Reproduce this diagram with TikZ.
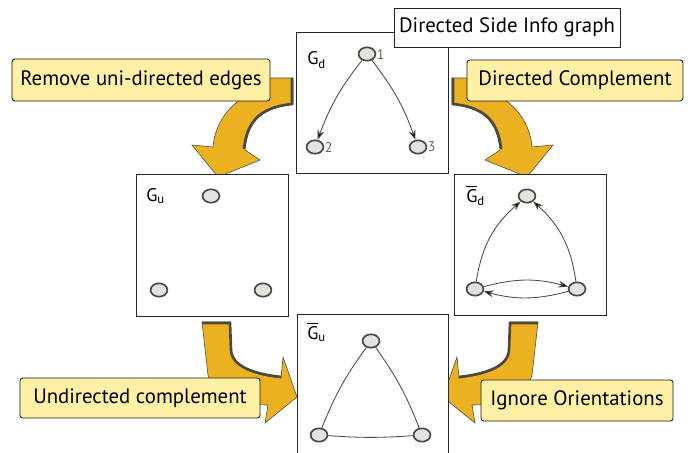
\documentclass[tikz,border=0pt]{standalone}
\usepackage{fontspec}
\setmainfont{PT Sans}
\usepackage{amsmath}
\usetikzlibrary{arrows.meta,shapes.geometric}

\definecolor{gold}{RGB}{236,177,32}
\definecolor{rim}{RGB}{75,74,64}
\definecolor{note}{RGB}{255,240,166}
\definecolor{vfill}{RGB}{226,227,222}
\definecolor{vline}{RGB}{74,74,68}

\tikzset{
	vtx/.style={ellipse,draw=vline,fill=vfill,line width=1.2pt,minimum width=12pt,minimum height=9.5pt,inner sep=0pt},
	num/.style={text=black!60,font=\fontsize{10}{12}\selectfont,inner sep=0.3pt},
	panel/.style={draw=black!85,fill=white,line width=0.6pt},
	callout/.style={draw=black!90,fill=note,rounded corners=2pt,line width=0.6pt,inner sep=0pt,font=\fontsize{14.8}{16}\selectfont},
	band/.style={fill=gold,draw=rim,line width=0.4pt},
	ribbon/.style={draw=rim,line width=1.9pt},
	dirc/.style={draw=vline,line width=0.6pt,-{Stealth[length=7pt,width=5pt]}},
	undir/.style={draw=vline,line width=0.6pt},
	glabel/.style={anchor=base west,inner sep=0pt,font=\fontsize{13}{14}\selectfont}
}

\begin{document}
\begin{tikzpicture}[x=0.025cm,y=0.025cm]
	\useasboundingbox (0,0) rectangle (690,-453);

	\filldraw[band] (293,-78) -- (293,-104) .. controls (265,-108) and (248,-118) .. (245,-150) -- (260,-160) -- (218,-177) -- (192,-145) -- (213,-147) .. controls (215,-120) and (235,-95) .. (265,-90) -- (265,-78) -- cycle;
	\draw[ribbon] (292,-78) -- (292,-104) .. controls (264,-107) and (247,-118) .. (244,-149);

	\filldraw[band] (452,-78) -- (452,-104) .. controls (480,-108) and (497,-118) .. (500,-150) -- (485,-160) -- (527,-177) -- (553,-145) -- (532,-147) .. controls (530,-120) and (510,-95) .. (480,-90) -- (480,-78) -- cycle;
	\draw[ribbon] (453,-78) -- (453,-104) .. controls (481,-107) and (498,-118) .. (501,-149);

	\filldraw[band] (202,-322) -- (230,-322) -- (231,-350) .. controls (232,-368) and (255,-375) .. (281,-378) -- (283,-357) -- (297,-397) -- (265,-423) -- (268,-405) .. controls (232,-405) and (214,-395) .. (208,-375) -- cycle;
	\draw[ribbon] (202,-323) -- (230,-323) -- (231,-350) .. controls (232,-367) and (255,-374) .. (281,-377);

	\filldraw[band] (538,-322) -- (510,-322) -- (509,-350) .. controls (508,-368) and (485,-375) .. (459,-378) -- (457,-357) -- (443,-397) -- (475,-423) -- (472,-405) .. controls (508,-405) and (526,-395) .. (532,-375) -- cycle;
	\draw[ribbon] (538,-323) -- (510,-323) -- (509,-350) .. controls (508,-367) and (485,-374) .. (459,-377);

	\draw[panel] (296,-32) rectangle (448,-173);
	\draw[panel] (136,-174) rectangle (288,-316);
	\draw[panel] (454,-174) rectangle (606,-315);
	\fill[white] (297,-314) rectangle (448,-460);
	\draw[panel] (297,-460) |- (448,-314) -- (448,-460);

	\node[glabel] (gd) at (307,-65) {G$_{\text{d}}$};
	\node[glabel] (gu) at (146,-201) {G$_{\text{u}}$};
	\node[glabel] (gdc) at (466,-202) {$\overline{\text{G}}_{\text{d}}$};
	\node[glabel] (guc) at (307,-339) {$\overline{\text{G}}_{\text{u}}$};

	\node[vtx,label={[num]right:1}] (d1) at (367,-54) {};
	\node[vtx,label={[num]right:2}] (d2) at (315,-147) {};
	\node[vtx,label={[num]right:3}] (d3) at (418,-147) {};

	\node[vtx] (u1) at (211,-196) {};
	\node[vtx] (u2) at (159,-290) {};
	\node[vtx] (u3) at (263,-290) {};

	\node[vtx] (cd1) at (527,-196) {};
	\node[vtx] (cd2) at (475,-289) {};
	\node[vtx] (cd3) at (577,-289) {};

	\node[vtx] (cu1) at (371,-341) {};
	\node[vtx] (cu2) at (319,-435) {};
	\node[vtx] (cu3) at (422,-435) {};

	\path[dirc] (d1) edge[bend right=9] (d2);
	\path[dirc] (d1) edge[bend left=9] (d3);

	\path[dirc] (cd2) edge[bend left=20] (cd1);
	\path[dirc] (cd3) edge[bend right=20] (cd1);
	\path[dirc] (cd2) edge[bend left=15] (cd3);
	\path[dirc] (cd3) edge[bend left=15] (cd2);

	\path[undir] (cu1) edge[bend right=7] (cu2);
	\path[undir] (cu1) edge[bend left=7] (cu3);
	\path[undir] (cu2) edge[bend right=4] (cu3);

	\node[panel,inner sep=0pt,minimum width=160.8pt,minimum height=27.7pt,font=\fontsize{14.8}{16}\selectfont] (title) at (507,-27.5) {Directed Side Info graph};

	\node[callout,minimum width=183.5pt,minimum height=29.9pt] (remove) at (141,-80) {Remove uni-directed edges};
	\node[callout,minimum width=153.6pt,minimum height=29.2pt] (dcomp) at (575,-80.5) {Directed Complement};
	\node[callout,minimum width=170.7pt,minimum height=28.5pt] (ucomp) at (140,-398) {Undirected complement};
	\node[callout,minimum width=136.6pt,minimum height=29.2pt] (ignore) at (577,-400.5) {Ignore Orientations};
\end{tikzpicture}
\end{document}
